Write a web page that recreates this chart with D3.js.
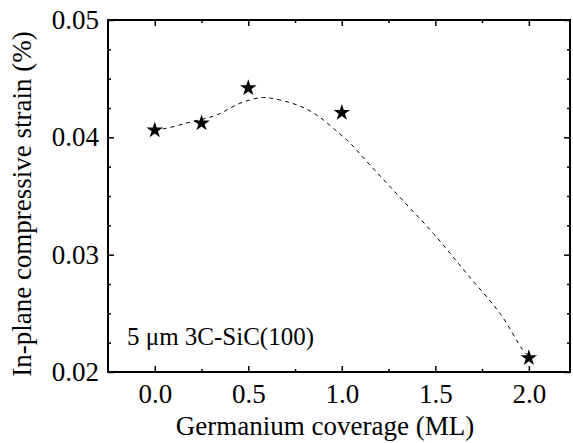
<!DOCTYPE html>
<html>
<head>
<meta charset="utf-8">
<script src="https://cdn.jsdelivr.net/npm/d3@7"></script>
<style>
  body { margin: 0; background: #fff; }
</style>
</head>
<body>
<svg id="mainChart" width="573" height="443" font-family="Liberation Serif"></svg>
<script>
// measured points (Ge coverage in ML, strain in %)
const coverage = [0, 0.25, 0.5, 1.0, 2.0];
const strain = [0.0406, 0.0412, 0.0442, 0.0421, 0.0212];

// dashed guide curve
const fitX = [0.0, 0.05, 0.19, 0.33, 0.455, 0.565, 0.62, 0.72, 0.80, 0.88, 0.96, 1.045, 1.13, 1.31, 1.49, 1.67, 1.85, 1.965, 2.0];
const fitY = [0.0407, 0.04074, 0.0413, 0.0419, 0.0429, 0.04338, 0.04334, 0.04297, 0.0425, 0.04174, 0.0407, 0.0395, 0.0380, 0.0349, 0.0318, 0.02835, 0.0249, 0.02194, 0.0213];

const xTicks = [0, 0.5, 1.0, 1.5, 2.0];
const xMinor = [0.25, 0.75, 1.25, 1.75];
const yTicks = [0.02, 0.03, 0.04, 0.05];
const yMinor = [0.0225, 0.025, 0.0275, 0.0325, 0.035, 0.0375, 0.0425, 0.045, 0.0475];

const xTitle = "Germanium coverage (ML)";
const yTitle = "In-plane compressive strain (%)";
const note = "5 \u03bcm 3C-SiC(100)";

const serif = "Liberation Serif";
const attr = { width: 573, height: 443, left: 108, right: 570, top: 20, bottom: 372 };

const svg = d3.select("svg#mainChart");

const scaleX = d3.scaleLinear().domain([-0.25, 2.22]).range([attr.left, attr.right]);
const scaleY = d3.scaleLinear().domain([0.02, 0.05]).range([attr.bottom, attr.top]);

function setFont(sel, size) {
  sel.style("font-family", serif, "important")
    .style("font-size", size + "px", "important");
}

function tickStyle(g) {
  g.select(".domain").remove();
  g.attr("font-family", serif).attr("font-size", 27);
  g.selectAll(".tick line").attr("stroke", "#000").attr("stroke-width", 1.5);
  g.selectAll(".tick text").attr("fill", "#000").call(setFont, 27);
}

// bottom
svg.append("g")
  .attr("transform", `translate(0,${attr.bottom})`)
  .call(d3.axisBottom(scaleX).tickValues(xTicks).tickSize(-6).tickPadding(12).tickFormat(d3.format(".1f")))
  .call(tickStyle);
svg.append("g")
  .attr("transform", `translate(0,${attr.bottom})`)
  .call(d3.axisBottom(scaleX).tickValues(xMinor).tickSize(-3).tickFormat(""))
  .call(tickStyle);
// top
svg.append("g")
  .attr("transform", `translate(0,${attr.top})`)
  .call(d3.axisTop(scaleX).tickValues(xTicks).tickSize(-6).tickFormat(""))
  .call(tickStyle);
svg.append("g")
  .attr("transform", `translate(0,${attr.top})`)
  .call(d3.axisTop(scaleX).tickValues(xMinor).tickSize(-3).tickFormat(""))
  .call(tickStyle);
// left
svg.append("g")
  .attr("transform", `translate(${attr.left},0)`)
  .call(d3.axisLeft(scaleY).tickValues(yTicks).tickSize(-6).tickPadding(9).tickFormat(d3.format(".2f")))
  .call(tickStyle);
svg.append("g")
  .attr("transform", `translate(${attr.left},0)`)
  .call(d3.axisLeft(scaleY).tickValues(yMinor).tickSize(-3).tickFormat(""))
  .call(tickStyle);
// right
svg.append("g")
  .attr("transform", `translate(${attr.right},0)`)
  .call(d3.axisRight(scaleY).tickValues(yTicks).tickSize(-6).tickFormat(""))
  .call(tickStyle);
svg.append("g")
  .attr("transform", `translate(${attr.right},0)`)
  .call(d3.axisRight(scaleY).tickValues(yMinor).tickSize(-3).tickFormat(""))
  .call(tickStyle);

// frame
svg.append("rect")
  .attr("x", attr.left)
  .attr("y", attr.top)
  .attr("width", attr.right - attr.left)
  .attr("height", attr.bottom - attr.top)
  .attr("fill", "none")
  .attr("stroke", "#000")
  .attr("stroke-width", 2);

// dashed curve
const fitData = fitX.map((x, i) => [x, fitY[i]]);
svg.append("path")
  .datum(fitData)
  .attr("fill", "none")
  .attr("stroke", "#000")
  .attr("stroke-width", 1)
  .attr("stroke-dasharray", "4,4")
  .attr("d", d3.line()
    .x(d => scaleX(d[0]))
    .y(d => scaleY(d[1]))
    .curve(d3.curveCatmullRom));

// stars
svg.selectAll(".star")
  .data(coverage.map((c, i) => [c, strain[i]]))
  .enter()
  .append("path")
  .attr("class", "star")
  .attr("transform", d => `translate(${scaleX(d[0])},${scaleY(d[1])})`)
  .attr("d", d3.symbol().type(d3.symbolStar).size(85))
  .attr("fill", "#000");

// titles
svg.append("text")
  .attr("x", 325)
  .attr("y", 435)
  .attr("text-anchor", "middle")
  .call(setFont, 27)
  .text(xTitle);

svg.append("text")
  .attr("transform", "rotate(-90)")
  .attr("x", -204)
  .attr("y", 31)
  .attr("text-anchor", "middle")
  .call(setFont, 27)
  .text(yTitle);

svg.append("text")
  .attr("x", 127)
  .attr("y", 345)
  .call(setFont, 25)
  .text(note);
</script>
</body>
</html>
